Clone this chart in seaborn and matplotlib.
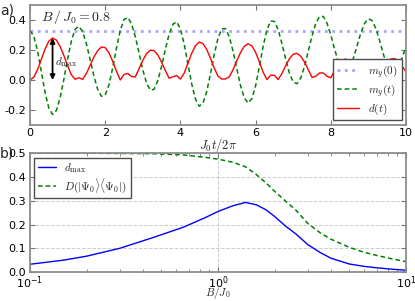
import numpy as np
import pandas as pd
import matplotlib
matplotlib.use("Agg")
import matplotlib.pyplot as plt
import seaborn as sns

# Panel a: time evolution, J0 t / 2pi
t = np.round(np.arange(0, 10.01, 0.1), 1)
m_y0 = 0.33
m_y_t = [0.330, 0.294, 0.194, 0.057, -0.082, -0.187, -0.230, -0.204, -0.120, 0.003,
         0.140, 0.261, 0.339, 0.359, 0.322, 0.242, 0.135, 0.025, -0.062, -0.109,
         -0.101, -0.033, 0.082, 0.213, 0.330, 0.404, 0.418, 0.376, 0.290, 0.180,
         0.068, -0.021, -0.068, -0.062, -0.004, 0.092, 0.204, 0.306, 0.372, 0.389,
         0.342, 0.240, 0.107, -0.026, -0.128, -0.175, -0.155, -0.077, 0.041, 0.171,
         0.279, 0.342, 0.343, 0.289, 0.192, 0.074, -0.038, -0.120, -0.154, -0.126,
         -0.039, 0.089, 0.224, 0.335, 0.394, 0.391, 0.336, 0.244, 0.139, 0.046,
         -0.014, -0.025, 0.013, 0.090, 0.191, 0.294, 0.377, 0.424, 0.424, 0.379,
         0.300, 0.207, 0.122, 0.065, 0.051, 0.081, 0.145, 0.230, 0.315, 0.379,
         0.409, 0.396, 0.342, 0.261, 0.171, 0.094, 0.048, 0.044, 0.081, 0.151,
         0.220]
d_t = [0.000, 0.018, 0.068, 0.137, 0.206, 0.259, 0.280, 0.267, 0.225, 0.164,
       0.095, 0.035, 0.005, 0.015, 0.004, 0.044, 0.098, 0.153, 0.196, 0.220,
       0.216, 0.182, 0.124, 0.059, 0.000, 0.037, 0.044, 0.023, 0.020, 0.075,
       0.131, 0.176, 0.199, 0.196, 0.167, 0.119, 0.063, 0.012, 0.021, 0.030,
       0.006, 0.045, 0.112, 0.178, 0.229, 0.253, 0.243, 0.204, 0.145, 0.080,
       0.026, 0.006, 0.007, 0.021, 0.069, 0.128, 0.184, 0.225, 0.242, 0.228,
       0.185, 0.121, 0.053, 0.003, 0.032, 0.031, 0.003, 0.043, 0.096, 0.142,
       0.172, 0.178, 0.159, 0.120, 0.070, 0.018, 0.024, 0.047, 0.047, 0.025,
       0.015, 0.062, 0.104, 0.133, 0.140, 0.125, 0.093, 0.050, 0.008, 0.025,
       0.040, 0.033, 0.006, 0.035, 0.080, 0.118, 0.141, 0.143, 0.125, 0.090,
       0.055]

# Panel b: against B / J0
B = [0.1, 0.15, 0.2, 0.3, 0.45, 0.65, 0.85, 1.0, 1.2, 1.4, 1.6, 1.8, 2.0,
     2.3, 2.6, 3.0, 3.5, 4.0, 5.0, 6.0, 7.0, 8.5, 10.0]
d_max = [0.033, 0.050, 0.067, 0.100, 0.145, 0.188, 0.228, 0.255, 0.279, 0.293,
         0.283, 0.262, 0.234, 0.192, 0.160, 0.116, 0.082, 0.058, 0.034, 0.024,
         0.018, 0.012, 0.008]
D_psi0 = [0.500, 0.500, 0.500, 0.499, 0.498, 0.493, 0.483, 0.475, 0.462, 0.443,
          0.410, 0.375, 0.340, 0.297, 0.260, 0.205, 0.165, 0.138, 0.104, 0.083,
          0.070, 0.055, 0.044]

sns.set_style("ticks")
plt.rcParams.update({
    "font.family": ["DejaVu Sans"],
    "mathtext.fontset": "cm",
    "axes.unicode_minus": False,
    "font.size": 8,
    "axes.edgecolor": "0.55",
    "axes.linewidth": 1.3,
    "xtick.direction": "in",
    "ytick.direction": "in",
    "xtick.top": True,
    "ytick.right": True,
    "xtick.color": "0.45",
    "ytick.color": "0.45",
    "xtick.labelcolor": "black",
    "ytick.labelcolor": "black",
    "xtick.labelsize": 8,
    "ytick.labelsize": 8,
    "xtick.major.pad": 2,
    "ytick.major.pad": 3,
    "legend.fontsize": 8,
})

fig = plt.figure(figsize=(4.15, 3.01), dpi=100)
ax1 = fig.add_axes([0.0723, 0.585, 0.906, 0.398])
ax2 = fig.add_axes([0.0723, 0.096, 0.906, 0.395])

dash = (0, (3, 2))

# a) time traces
ax1.axhline(m_y0, color="b", alpha=0.35, linestyle=":", lw=2, label="$m_y(0)$")
sns.lineplot(x=t, y=m_y_t, ax=ax1, color="g", linestyle=dash, lw=1.1, label="$m_y(t)$")
sns.lineplot(x=t, y=d_t, ax=ax1, color="r", lw=1.0, label="$d(t)$")

i_max = int(np.argmax(d_t))
ax1.annotate("", xy=(t[i_max], d_t[i_max]), xytext=(t[i_max], 0.0),
             arrowprops=dict(arrowstyle="<|-|>", color="k", lw=1.3, mutation_scale=7,
                             shrinkA=0, shrinkB=0))
ax1.text(t[i_max] + 0.07, 0.12, r"$d_{\max}$", fontsize=8, va="center")
ax1.text(0.3, 0.42, r"$B\,/\,J_0=0.8$", fontsize=10, va="center")

ax1.set_xlim(0, 10)
ax1.set_ylim(-0.3, 0.5)
ax1.set_xticks([0, 2, 4, 6, 8, 10])
ax1.set_yticks([-0.2, 0.0, 0.2, 0.4])
ax1.set_xlabel(r"$J_0t/2\pi$", fontsize=9)
ax1.xaxis.set_label_coords(0.5, -0.095)
ax1.set_ylabel("")
ax1.legend(loc="lower right", fancybox=False, edgecolor="0.3", framealpha=1,
           handlelength=2.0, borderpad=0.35, labelspacing=0.2, borderaxespad=0.4)

# b) maximum distinguishability
sns.lineplot(x=B, y=d_max, ax=ax2, color="b", lw=1.0, label=r"$d_{\max}$")
sns.lineplot(x=B, y=D_psi0, ax=ax2, color="g", linestyle=dash, lw=1.1,
             label=r"$D(|\Psi_0\rangle\langle\Psi_0|)$")
ax2.set_xscale("log")
ax2.set_xlim(0.1, 10)
ax2.set_ylim(0, 0.5)
ax2.set_yticks([0.0, 0.1, 0.2, 0.3, 0.4, 0.5])
ax2.grid(True, which="major", linestyle="--", color="0.8", lw=0.7)
ax2.set_xlabel(r"$B/J_0$", fontsize=8, va="bottom")
ax2.xaxis.set_label_coords(0.5, -0.242)
ax2.set_ylabel("")
ax2.legend(loc="upper left", fancybox=False, edgecolor="0.3", framealpha=1,
           handlelength=1.6, borderpad=0.3, labelspacing=0.15, borderaxespad=0.4)

fig.text(0.0, 0.965, "a)", fontsize=10, va="center")
fig.text(0.0, 0.49, "b)", fontsize=10, va="center")

fig.savefig("out.png", dpi=100)
